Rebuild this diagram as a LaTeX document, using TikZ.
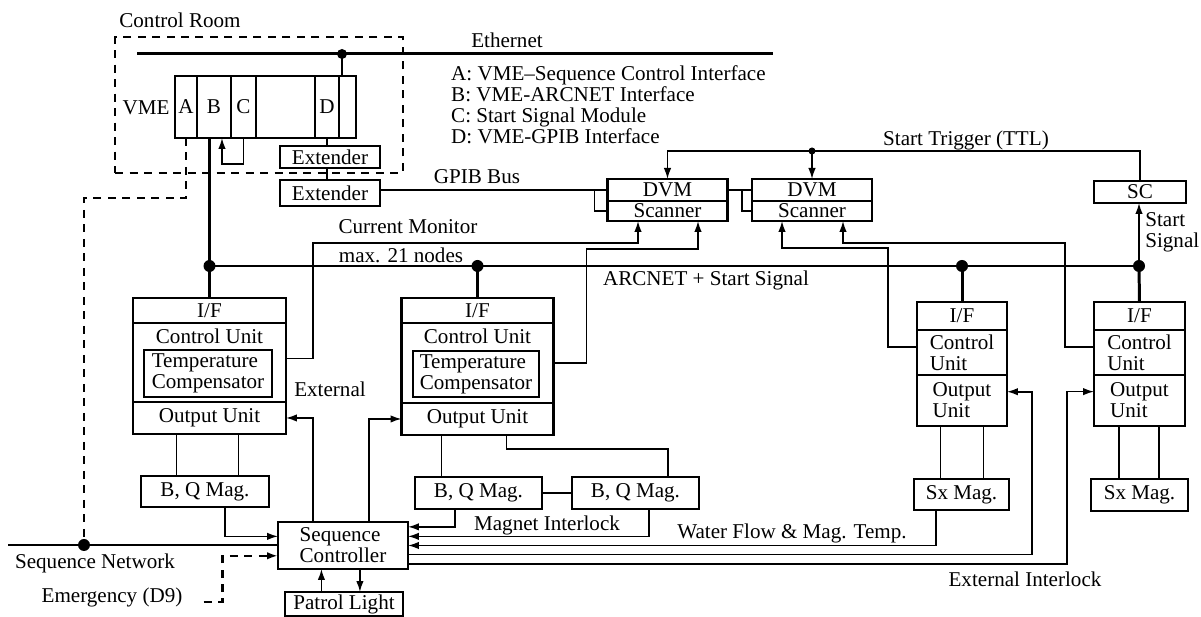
\documentclass[tikz,border=0pt]{standalone}
\usepackage{fontspec}
\setmainfont{Liberation Serif}
\usepackage{tikz}
\usetikzlibrary{shapes,arrows.meta,positioning}

\begin{document}
\begin{tikzpicture}[x=0.02cm,y=-0.02cm,>={Latex[length=0.22cm,width=0.15cm]},font=\fontsize{12}{12}\selectfont]
\tikzstyle{box}=[draw=black,line width=1.6pt,inner sep=0pt,outer sep=0pt,text=black]
\tikzstyle{slot}=[box,minimum height=1.24cm]
\tikzstyle{bus}=[line width=1.7pt]
\tikzstyle{sig}=[line width=0.9pt]
\tikzstyle{dsh}=[line width=1.4pt,dash pattern=on 0.16cm off 0.13cm]
\tikzstyle{dot}=[circle,fill=black,inner sep=0pt,minimum size=0.24cm]

\useasboundingbox (0,0) rectangle (1201,617);

\node[dsh,draw,minimum width=5.76cm,minimum height=2.72cm] (croombox) at (259,105) {};
\node (croom) at (180,20) {Control Room};

\node[slot,minimum width=0.44cm] (slotA) at (186,107) {A};
\node[slot,minimum width=0.68cm,right=0pt of slotA] (slotB) {B};
\node[slot,minimum width=0.50cm,right=0pt of slotB] (slotC) {C};
\node[slot,minimum width=1.18cm,right=0pt of slotC] (slotE) {};
\node[slot,minimum width=0.48cm,right=0pt of slotE] (slotD) {\raisebox{-0.1cm}{D}};
\node[slot,minimum width=0.34cm,right=0pt of slotD] (slotF) {};
\node (vmetxt) at (146,108) {VME};

\node[box,minimum width=2cm,minimum height=0.44cm] (ext1) at (330,157) {Extender};
\node[box,minimum width=2cm,minimum height=0.52cm] (ext2) at (330,193) {Extender};

\node[box,minimum width=2.4cm,minimum height=0.44cm] (dvm1) at (667.5,190) {DVM};
\node[box,minimum width=2.4cm,minimum height=0.4cm,below=0pt of dvm1] (scan1) {Scanner};
\node[box,minimum width=2.4cm,minimum height=0.44cm] (dvm2) at (812,190) {DVM};
\node[box,minimum width=2.4cm,minimum height=0.4cm,below=0pt of dvm2] (scan2) {Scanner};
\node[box,minimum width=1.84cm,minimum height=0.44cm] (sc) at (1140,192) {SC};

\node[box,minimum width=3.06cm,minimum height=0.5cm] (if1) at (209.5,310.5) {I/F};
\node[box,minimum width=3.06cm,minimum height=1.58cm,below=0pt of if1,label={[anchor=north]north:Control Unit}] (ctl1) {};
\node[box,minimum width=3.06cm,minimum height=0.64cm,below=0pt of ctl1] (out1) {Output Unit};
\node[box,line width=1.2pt,minimum width=2.56cm,minimum height=0.94cm,align=left] (tc1) at (208,373.5) {Temperature\\Compensator};

\node[box,minimum width=3.04cm,minimum height=0.5cm] (if2) at (477.5,310.5) {I/F};
\node[box,minimum width=3.04cm,minimum height=1.6cm,below=0pt of if2,label={[anchor=north]north:Control Unit}] (ctl2) {};
\node[box,minimum width=3.04cm,minimum height=0.64cm,below=0pt of ctl2] (out2) {Output Unit};
\node[box,line width=1.2pt,minimum width=2.52cm,minimum height=0.92cm,align=left] (tc2) at (476,374) {Temperature\\Compensator};

\node[box,minimum width=1.8cm,minimum height=0.56cm] (if3) at (962,316) {I/F};
\node[box,minimum width=1.8cm,minimum height=0.9cm,below=0pt of if3,align=left] (ctl3) {Control\\Unit};
\node[box,minimum width=1.8cm,minimum height=1.02cm,below=0pt of ctl3,align=left] (out3) {Output\\Unit};

\node[box,minimum width=1.82cm,minimum height=0.56cm] (if4) at (1139.5,316) {I/F};
\node[box,minimum width=1.82cm,minimum height=0.9cm,below=0pt of if4,align=left] (ctl4) {Control\\Unit};
\node[box,minimum width=1.82cm,minimum height=1.02cm,below=0pt of ctl4,align=left] (out4) {Output\\Unit};

\node[box,minimum width=2.56cm,minimum height=0.62cm] (bq1) at (205,491.5) {B, Q Mag.};
\node[box,minimum width=2.54cm,minimum height=0.64cm] (bq2) at (478.5,493) {B, Q Mag.};
\node[box,minimum width=2.54cm,minimum height=0.64cm,right=0.6cm of bq2] (bq3) {B, Q Mag.};
\node[box,minimum width=1.9cm,minimum height=0.62cm] (sx1) at (961.5,494.5) {Sx Mag.};
\node[box,minimum width=1.94cm,minimum height=0.64cm] (sx2) at (1139.5,495) {Sx Mag.};

\node[box,minimum width=2.6cm,minimum height=0.94cm,align=left] (seqctl) at (343,545.5) {Sequence\\Controller};
\node[box,minimum width=2.36cm,minimum height=0.48cm] (pl) at (344,604) {Patrol Light};

\node (ethtxt) at (507,40) {Ethernet};
\node[anchor=west,align=left] (legend) at (445,105) {A: VME–Sequence Control Interface\\B: VME-ARCNET Interface\\C: Start Signal Module\\D: VME-GPIB Interface};
\node (gpibtxt) at (477,177) {GPIB Bus};
\node (trgtxt) at (966,140) {Start Trigger (TTL)};
\node[anchor=west,align=left,inner sep=0pt] (sstxt) at (1145,232) {Start\\Signal};
\node (cmtxt) at (408,227) {Current Monitor};
\node (maxtxt) at (401,255) {max. 21 nodes};
\node (arctxt) at (706,280) {ARCNET + Start Signal};
\node (exttxt) at (330,389) {External};
\node (mitxt) at (547,525) {Magnet Interlock};
\node (wftxt) at (792,533) {Water Flow \& Mag. Temp.};
\node (eitxt) at (1025,579) {External Interlock};
\node (sntxt) at (95,563) {Sequence Network};
\node (emg) at (112,597) {Emergency (D9)};

\node[dot,minimum size=0.2cm] (ethJ) at (342,54) {};
\node[dot] (arcL) at (209.5,266) {};
\node[dot] (arcJ2) at (477.5,266) {};
\node[dot] (arcJ3) at (962,266) {};
\node[dot] (arcR) at (1139,266) {};
\node[dot] (seqJ) at (84,545) {};
\node[dot,minimum size=0.14cm] (trgJ) at (812,151) {};

\coordinate (ethL) at (137,54);
\coordinate (ethR) at (773,54);
\coordinate (seqL) at (8,545);
\coordinate (cm1) at (638,243);
\coordinate (cm2) at (698,249);
\coordinate (cm3) at (782,248);
\coordinate (cm4) at (843,243);
\coordinate (ilk3) at (1032,480);
\coordinate (ilk4) at (1067,480);

\draw[bus] (ethL) -- (ethR);
\draw[bus] (ethJ.center) -- (ethJ |- slotF.north);
\draw[bus] (arcL.center) -- (arcR.center);
\draw[bus] (slotB.south -| arcL) -- (if1.north);
\draw[bus] (arcJ2.center) -- (if2.north);
\draw[bus] (arcJ3.center) -- (if3.north);
\draw[bus] (arcR.center) -- (if4.north);
\draw[bus] (seqL) -- (seqL -| seqctl.west);

\draw[dsh] (slotA.south) -- ++(0,60) -| (seqJ.center);
\draw[dsh,->] ([xshift=0.3cm,yshift=-0.1cm]emg.east) -- ++(19,0) |- (seqctl.189);

\draw[sig,->] (slotC.south) -- ++(0,26) -| ([xshift=0.16cm]slotB.south);
\draw[sig] (slotD.south) -- (slotD.south |- ext1.north);
\draw[sig] (slotD.south |- ext1.south) -- (slotD.south |- ext2.north);
\draw[sig] (ext2.east |- dvm1.west) -- (dvm1.west);
\draw[sig] ([xshift=-0.26cm]dvm1.west) |- (scan1.west);
\draw[sig] (dvm1.east) -- (dvm2.west);
\draw[sig] ([xshift=-0.2cm]dvm2.west) |- (scan2.west);

\draw[sig,->] (sc.north) |- (trgJ.center) -| (dvm1.north);
\draw[sig,->] (trgJ.center) -- (dvm2.north);
\draw[sig,->] (arcR) -- (arcR |- sc.south);

\draw[sig,->] (ctl1.3) -- ++(27,0) |- (cm1) -- (cm1 |- scan1.south);
\draw[sig,->] (ctl2.east) -- ++(33,0) |- (cm2) -- (cm2 |- scan1.south);
\draw[sig,->] (ctl3.173) -- ++(-29,0) |- (cm3) -- (cm3 |- scan2.south);
\draw[sig,->] (ctl4.173) -- ++(-29,0) |- (cm4) -- (cm4 |- scan2.south);

\draw[sig] (out1.206) -- (out1.206 |- bq1.north);
\draw[sig] (out1.-29) -- (out1.-29 |- bq1.north);
\draw[sig] (out2.204) -- (out2.204 |- bq2.north);
\draw[sig] (out2.-29) -- ++(0,14) -| (bq3.26);
\draw[sig] (bq2) -- (bq3);
\draw[sig] (out3.230) -- (out3.230 |- sx1.north);
\draw[sig] (out3.-50) -- (out3.-50 |- sx1.north);
\draw[sig] (out4.231) -- (out4.231 |- sx2.north);
\draw[sig] (out4.-53) -- (out4.-53 |- sx2.north);

\draw[sig,->] (seqctl.142) |- (out1.east);
\draw[sig,->] (seqctl.42) |- (out2.west);
\draw[sig,->] (bq1.-38) |- (seqctl.172);
\draw[sig,->] (bq2.214) |- (seqctl.16);
\draw[sig,->] (bq3.-50) |- (seqctl.8);
\draw[sig,->] (sx1.211) |- (seqctl.east);
\draw[sig,->] (seqctl.-8) -| (ilk3) |- (out3.11);
\draw[sig,->] (seqctl.-16) -| (ilk4) |- (out4.169);
\draw[sig,->] (pl.152) -- (pl.152 |- seqctl.south);
\draw[sig,->] (pl.37 |- seqctl.south) -- (pl.37);
\end{tikzpicture}
\end{document}
